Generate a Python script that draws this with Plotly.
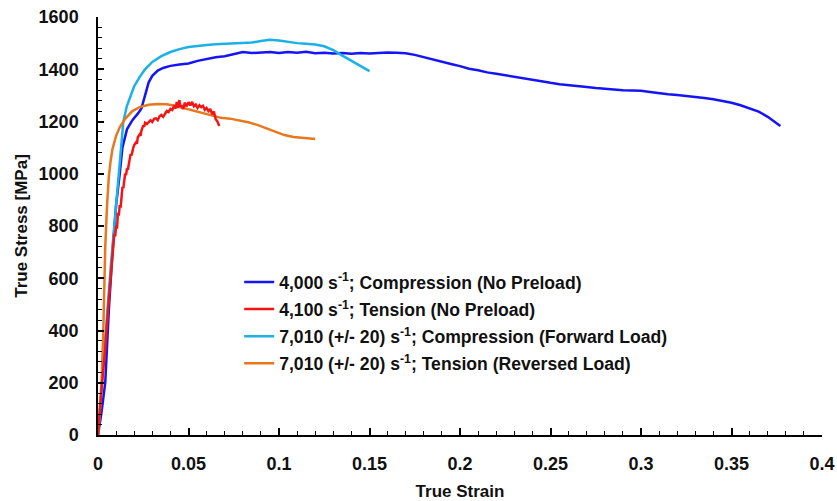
import plotly.graph_objects as go

# ---- Data ----
blue_name = "4,000 s<sup>-1</sup>; Compression (No Preload)"
blue_strain = [0, 0.002, 0.004, 0.006, 0.008, 0.010, 0.012, 0.0135, 0.016, 0.019, 0.022, 0.024, 0.026, 0.028,
               0.030, 0.033, 0.036, 0.040, 0.045, 0.050, 0.055, 0.060, 0.065, 0.070, 0.075, 0.080, 0.085,
               0.090, 0.095, 0.100, 0.105, 0.110, 0.115, 0.120, 0.125, 0.130, 0.135, 0.140, 0.145, 0.150,
               0.155, 0.160, 0.165, 0.170, 0.175, 0.180, 0.185, 0.190, 0.195, 0.200, 0.205, 0.210, 0.215,
               0.220, 0.225, 0.230, 0.235, 0.240, 0.245, 0.250, 0.255, 0.260, 0.265, 0.270, 0.275, 0.280,
               0.285, 0.290, 0.295, 0.300, 0.305, 0.310, 0.315, 0.320, 0.325, 0.330, 0.335, 0.340, 0.345,
               0.350, 0.355, 0.360, 0.365, 0.370, 0.375, 0.377]
blue_stress = [0, 90, 200, 480, 700, 880, 1000, 1100, 1170, 1205, 1230, 1250, 1300, 1350,
               1375, 1395, 1405, 1413, 1418, 1422, 1432, 1440, 1446, 1450, 1458, 1466, 1462,
               1464, 1466, 1462, 1466, 1463, 1467, 1461, 1463, 1460, 1462, 1459, 1462, 1460,
               1462, 1464, 1463, 1461, 1455, 1446, 1436, 1428, 1420, 1412, 1402, 1396, 1388,
               1383, 1377, 1370, 1364, 1358, 1354, 1348, 1343, 1340, 1336, 1332, 1328, 1325,
               1322, 1320, 1319, 1318, 1313, 1308, 1304, 1301, 1298, 1295, 1290, 1285, 1279,
               1272, 1262, 1250, 1238, 1218, 1195, 1183]

red_name = "4,100 s<sup>-1</sup>; Tension (No Preload)"
red_strain = [0, 0.0005, 0.001, 0.002, 0.004, 0.006, 0.008, 0.009, 0.0095, 0.010, 0.0105, 0.011, 0.0115,
              0.012, 0.0125, 0.013, 0.0135, 0.014, 0.0145, 0.015, 0.0155, 0.016, 0.0165, 0.017, 0.0175,
              0.018, 0.0185, 0.019, 0.0195, 0.020, 0.021, 0.0215, 0.022, 0.023, 0.0235, 0.024, 0.025,
              0.0255, 0.026, 0.027, 0.028, 0.029, 0.030, 0.031, 0.032, 0.033, 0.034, 0.035, 0.036, 0.037,
              0.038, 0.039, 0.040, 0.041, 0.042, 0.043, 0.0435, 0.044, 0.045, 0.0455, 0.046, 0.047, 0.048,
              0.049, 0.050, 0.051, 0.052, 0.053, 0.054, 0.055, 0.056, 0.057, 0.058, 0.059, 0.060, 0.061,
              0.062, 0.063, 0.064, 0.065, 0.066, 0.067]
red_stress = [0, 60, 90, 180, 330, 520, 700, 770, 760, 800, 790, 850, 840,
              880, 870, 930, 950, 945, 990, 1000, 995, 1020, 1015, 1040, 1060,
              1075, 1070, 1090, 1100, 1110, 1120, 1115, 1140, 1150, 1145, 1165, 1185,
              1180, 1195, 1190, 1200, 1205, 1198, 1210, 1212, 1205, 1220, 1225, 1218, 1232,
              1240, 1236, 1248, 1244, 1258, 1250, 1275, 1252, 1282, 1255, 1262, 1248, 1272,
              1258, 1274, 1262, 1275, 1258, 1265, 1252, 1262, 1255, 1260, 1245, 1252, 1240,
              1248, 1228, 1238, 1210, 1200, 1183]

cyan_name = "7,010 (+/- 20) s<sup>-1</sup>; Compression (Forward Load)"
cyan_strain = [0, 0.001, 0.003, 0.005, 0.007, 0.009, 0.011, 0.0125, 0.014, 0.016, 0.018, 0.020, 0.023,
               0.026, 0.030, 0.035, 0.040, 0.045, 0.050, 0.055, 0.060, 0.065, 0.070, 0.075, 0.080, 0.085,
               0.090, 0.095, 0.100, 0.105, 0.110, 0.115, 0.120, 0.125, 0.130, 0.135, 0.140, 0.145, 0.150]
cyan_stress = [0, 80, 280, 470, 640, 800, 960, 1100, 1200, 1260, 1300, 1335, 1370,
               1400, 1428, 1450, 1466, 1477, 1485, 1490, 1493, 1496, 1498, 1499, 1500, 1502,
               1508, 1513, 1510, 1504, 1500, 1498, 1495, 1488, 1473, 1452, 1432, 1412, 1393]

orange_name = "7,010 (+/- 20) s<sup>-1</sup>; Tension (Reversed Load)"
orange_strain = [0, 0.001, 0.002, 0.003, 0.004, 0.005, 0.006, 0.007, 0.008, 0.010, 0.012, 0.015, 0.019,
                 0.023, 0.028, 0.033, 0.038, 0.043, 0.048, 0.053, 0.058, 0.063, 0.068, 0.073, 0.078,
                 0.083, 0.088, 0.093, 0.098, 0.103, 0.108, 0.113, 0.118, 0.120]
orange_stress = [0, 100, 200, 420, 720, 880, 990, 1050, 1095, 1145, 1178, 1210, 1240,
                 1255, 1264, 1267, 1266, 1259, 1250, 1240, 1230, 1222, 1214, 1211, 1205,
                 1197, 1187, 1173, 1159, 1148, 1141, 1137, 1134, 1133]

x_ticks = [0, 0.05, 0.1, 0.15, 0.2, 0.25, 0.3, 0.35, 0.4]
x_tick_labels = ["0", "0.05", "0.1", "0.15", "0.2", "0.25", "0.3", "0.35", "0.4"]
y_ticks = [0, 200, 400, 600, 800, 1000, 1200, 1400, 1600]
y_tick_labels = [str(v) for v in y_ticks]

# (name, x, y, colour, legend rank); drawing order: blue, cyan, orange, red
series = [
    (blue_name, blue_strain, blue_stress, "#1414F5", 1),
    (cyan_name, cyan_strain, cyan_stress, "#1BB0E6", 3),
    (orange_name, orange_strain, orange_stress, "#E8771E", 4),
    (red_name, red_strain, red_stress, "#F51414", 2),
]

fig = go.Figure()
for i, (name, xs, ys, col, rank) in enumerate(series):
    fig.add_trace(go.Scatter(x=xs, y=ys, mode="lines", name="<b>" + name + "</b>",
                             legendgroup=f"g{rank}", legendrank=rank,
                             line=dict(color=col, width=2.5)))

tick_font = dict(family="Liberation Sans, Arial, sans-serif", size=18, color="#111111")
title_font = dict(family="Liberation Sans, Arial, sans-serif", size=17, color="#111111")

fig.update_layout(
    width=837, height=501,
    margin=dict(l=98, r=15, t=17, b=66),
    paper_bgcolor="white", plot_bgcolor="white",
    showlegend=True,
    legend=dict(x=0.195, y=0.409, xanchor="left", yanchor="top",
                traceorder="grouped", tracegroupgap=1.2,
                font=dict(family="Liberation Sans, Arial, sans-serif", size=17.6, color="#111111"),
                bgcolor="rgba(0,0,0,0)"),
    xaxis=dict(range=[0, 0.4], tickvals=x_ticks, ticktext=["<b>" + t + "</b>" for t in x_tick_labels],
               automargin=False,
               showgrid=False, zeroline=False, showline=True, linecolor="black", linewidth=1.5,
               ticks="inside", ticklen=7, tickwidth=1.5, tickcolor="black",
               minor=dict(dtick=0.01, ticks="inside", ticklen=4, tickwidth=1.2, tickcolor="black"),
               tickfont=tick_font, ticklabelstandoff=12,
               title=dict(text="<b>True Strain</b>", font=title_font, standoff=12)),
    yaxis=dict(range=[0, 1600], tickvals=y_ticks, ticktext=["<b>" + t + "</b>" for t in y_tick_labels],
               automargin=False,
               showgrid=False, zeroline=False, showline=True, linecolor="black", linewidth=1.5,
               ticks="inside", ticklen=6, tickwidth=1.5, tickcolor="black",
               minor=dict(dtick=40, ticks="inside", ticklen=4, tickwidth=1.2, tickcolor="black"),
               tickfont=tick_font, ticklabelstandoff=14,
               title=dict(text="<b>True Stress [MPa]</b>", font=title_font, standoff=7)),
)

fig.write_html("out.html")
